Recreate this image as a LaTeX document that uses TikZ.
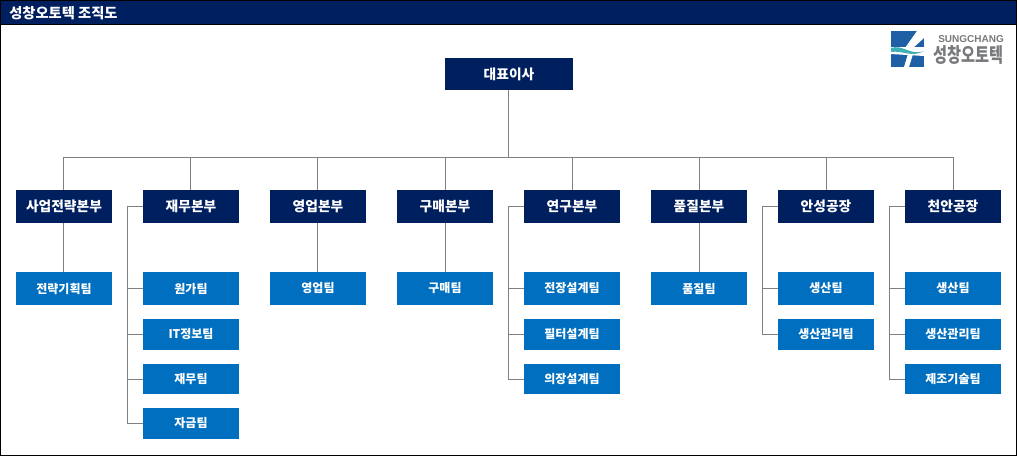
\documentclass[tikz,border=0pt]{standalone}
\usepackage{fontspec}
\setmainfont{Noto Sans CJK KR}
\newfontfamily\logolatin{Liberation Sans}
\newfontfamily\logokor[FakeStretch=0.76]{Noto Sans CJK KR}
\usetikzlibrary{positioning}
\definecolor{navy}{HTML}{001F5F}
\definecolor{teamblue}{HTML}{006FBF}
\definecolor{linegray}{HTML}{808080}
\definecolor{logoblue}{HTML}{1F5FA5}
\definecolor{logoteal}{HTML}{3FB0B5}
\definecolor{logogray}{HTML}{77797C}

\begin{document}
\begin{tikzpicture}[
    x=0.75pt, y=-0.75pt,
    ceo/.style={rectangle, draw=none, fill=navy, inner sep=0pt, outer sep=0pt,
        minimum width=96pt, minimum height=24pt, text=white, font=\bfseries\fontsize{10.3}{12}\selectfont},
    division/.style={rectangle, draw=none, fill=navy, inner sep=0pt, outer sep=0pt,
        minimum width=72pt, minimum height=24.75pt, text=white, font=\bfseries\fontsize{10.3}{12}\selectfont},
    team/.style={rectangle, draw=none, fill=teamblue, inner sep=0pt, outer sep=0pt,
        minimum width=72pt, minimum height=23.25pt, text=white, font=\bfseries\fontsize{9}{11}\selectfont},
    first/.style={team, minimum height=24.75pt},
    conn/.style={draw=linegray, line width=0.75pt}
]
\useasboundingbox (0,0) rectangle (1018,457);

% frame and title
\fill[white] (0,0) rectangle (1018,457);
\fill[navy] (0,0) rectangle (1016.5,24.5);
\draw[black, line width=1.2pt] (0.5,0.5) rectangle (1016.5,455.5);
\draw[black, line width=0.75pt] (0,24.5) -- (1016.5,24.5);
\node[anchor=west, inner sep=0pt, text=white, font=\bfseries\fontsize{10.7}{12}\selectfont] (title) at (9,13) {성창오토텍 조직도};

% logo
\fill[logoblue] (891,31) rectangle (924,67);
\fill[white] (917,31) -- (924,31) -- (924,38) -- (913,48) -- (905,48) -- cycle;
\fill[white] (891,47) -- (924,47) -- (924,56) -- (891,54) -- cycle;
\fill[white] (908,54) -- (913,54) -- (909,67) -- (904,67) -- cycle;
\fill[logoteal] (891,48) .. controls (903,44) and (910,56) .. (924,51) .. controls (912,58) and (902,50) .. (891,52) -- cycle;
\node[anchor=west, inner sep=0pt, text=logogray, font=\logolatin\bfseries\fontsize{7.5}{8}\selectfont] (logoname) at (938,38.7) {SUNGCHANG};
\node[anchor=west, inner sep=0pt, text=logogray, font=\logokor\bfseries\fontsize{15}{16}\selectfont] (logotext) at (933.5,54.5) {성창오토텍};

% boxes
\node [ceo] (boss) at (509,74) {대표이사};

\node [division] (plan) at (64,206.5) {사업전략본부};
\node [division, right=23.25pt of plan] (fin) {재무본부};
\node [division, right=23.25pt of fin] (sales) {영업본부};
\node [division, right=23.25pt of sales] (buy) {구매본부};
\node [division, right=23.25pt of buy] (lab) {연구본부};
\node [division, right=23.25pt of lab] (qual) {품질본부};
\node [division, right=23.25pt of qual] (ansung) {안성공장};
\node [division, right=23.25pt of ansung] (cheonan) {천안공장};

\node [first, below=36.75pt of plan] (plan1) {전략기획팀};

\node [first, below=36.75pt of fin] (fin1) {원가팀};
\node [team, below=10.5pt of fin1] (fin2) {IT정보팀};
\node [team, minimum height=22.5pt, below=10.5pt of fin2] (fin3) {재무팀};
\node [team, below=10.5pt of fin3] (fin4) {자금팀};

\node [first, below=36.75pt of sales] (sales1) {영업팀};
\node [first, below=36.75pt of buy] (buy1) {구매팀};

\node [first, below=36.75pt of lab] (lab1) {전장설계팀};
\node [team, below=10.5pt of lab1] (lab2) {필터설계팀};
\node [team, minimum height=22.5pt, below=10.5pt of lab2] (lab3) {의장설계팀};

\node [first, below=36.75pt of qual] (qual1) {품질팀};

\node [first, below=36.75pt of ansung] (ansung1) {생산팀};
\node [team, below=10.5pt of ansung1] (ansung2) {생산관리팀};

\node [first, below=36.75pt of cheonan] (cheonan1) {생산팀};
\node [team, below=10.5pt of cheonan1] (cheonan2) {생산관리팀};
\node [team, minimum height=22.5pt, below=10.5pt of cheonan2] (cheonan3) {제조기술팀};

% connectors
\coordinate (busmid) at (508.5,157.5);
\draw[conn] (boss.south -| busmid) -- (busmid);
\foreach \d/\s in {plan/-0.375,fin/-0.375,sales/-0.375,buy/0.375,lab/0.375,qual/0.375,ansung/0.375,cheonan/0.375}
    \draw[conn] (busmid) -| ([xshift=\s pt]\d.north);

\foreach \d/\s in {plan/-0.375,sales/-0.375,buy/0.375,qual/0.375}
    \draw[conn] ([xshift=\s pt]\d.south) -- ([xshift=\s pt]\d1.north);

\foreach \d/\t/\s in {fin/fin1/0,fin/fin2/0,fin/fin3/0.375,fin/fin4/0,lab/lab1/0,lab/lab2/0,lab/lab3/0.375,
        ansung/ansung1/0,ansung/ansung2/0,cheonan/cheonan1/0,cheonan/cheonan2/0,cheonan/cheonan3/0.375}
    \draw[conn] (\d.west) -- ++(-11.625pt,0) |- ([yshift=-\s pt]\t.west);

\end{tikzpicture}
\end{document}
